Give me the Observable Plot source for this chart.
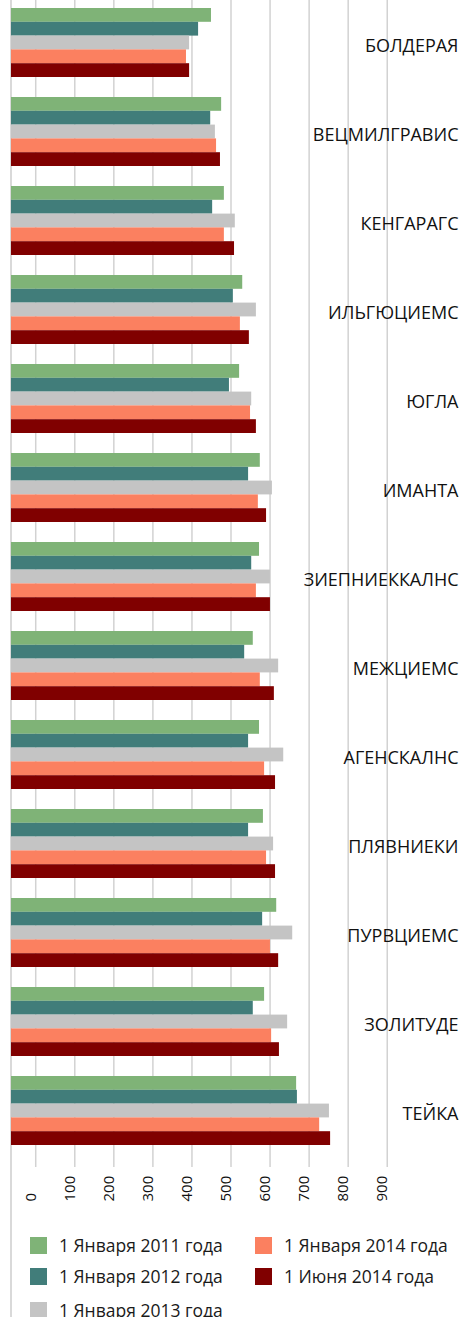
<!DOCTYPE html>
<html>
<head>
<meta charset="utf-8">
<script src="https://cdn.jsdelivr.net/npm/d3@7"></script>
<script src="https://cdn.jsdelivr.net/npm/@observablehq/plot@0.6"></script>
<style>
  body { margin: 0; background: #fff; font-family: "Open Sans", sans-serif; }
  #wrap { position: relative; width: 459px; height: 1317px; overflow: hidden; }
  #axisline { position: absolute; left: 10px; top: 0; width: 2px; height: 1317px; background: #d9d9d9; }
  #chart { position: absolute; left: 0; top: 0; }
  #legend { position: absolute; left: 30px; top: 1237px; display: grid;
            grid-template-columns: 225px 200px; grid-template-rows: 31px 34px 17px; grid-auto-flow: column; }
  .item { display: flex; align-items: center; height: 17px; font-size: 17.5px; line-height: 17px; color: #1a1a1a; white-space: nowrap; }
  .sw { width: 17px; height: 17px; margin-right: 12px; flex: none; }
</style>
</head>
<body>
<div id="wrap">
  <div id="axisline"></div>
  <div id="chart"></div>
  <div id="legend"></div>
</div>
<script>
const districts = ["БОЛДЕРАЯ", "ВЕЦМИЛГРАВИС", "КЕНГАРАГС", "ИЛЬГЮЦИЕМС", "ЮГЛА", "ИМАНТА",
  "ЗИЕПНИЕККАЛНС", "МЕЖЦИЕМС", "АГЕНСКАЛНС", "ПЛЯВНИЕКИ", "ПУРВЦИЕМС", "ЗОЛИТУДЕ", "ТЕЙКА"];
const series = ["1 Января 2011 года", "1 Января 2012 года", "1 Января 2013 года", "1 Января 2014 года", "1 Июня 2014 года"];
const colors = ["#7fb377", "#417d7a", "#c4c4c4", "#fb8060", "#800000"];

const jan2011 = [450, 476, 483, 530, 522, 575, 573, 557, 573, 583, 617, 586, 668];
const jan2012 = [417, 448, 453, 506, 496, 545, 553, 535, 545, 545, 581, 557, 670];
const jan2013 = [394, 460, 511, 565, 553, 606, 601, 622, 635, 609, 658, 645, 752];
const jan2014 = [386, 463, 483, 524, 550, 570, 565, 575, 586, 591, 601, 604, 727];
const jun2014 = [394, 473, 509, 547, 565, 591, 601, 611, 614, 614, 622, 624, 755];

const xTicks = [0, 100, 200, 300, 400, 500, 600, 700, 800, 900];

const seriesValues = [jan2011, jan2012, jan2013, jan2014, jun2014];
const data = districts.flatMap((d, i) =>
  series.map((s, j) => ({district: d, series: s, value: seriesValues[j][i]})));

const X_MIN = -62, X_MAX = 1085;
const BAR = 13.8;
const H = 1215;

const marks = [
  Plot.ruleX(xTicks, {stroke: "#d2d2d2", strokeWidth: 1.5}),
  ...series.map((s, j) => Plot.barX(data.filter(d => d.series === s), {
    x1: () => X_MIN, x2: "value", y: "district",
    fill: colors[j], insetTop: j * BAR, insetBottom: (4 - j) * BAR
  })),
  Plot.text(districts, {y: d => d, text: d => d, frameAnchor: "right", textAnchor: "end",
    dx: -1, dy: 3.5, fontSize: 18, fill: "#111"}),
  Plot.text(xTicks, {x: d => d, text: d => String(d), frameAnchor: "bottom", rotate: -90,
    textAnchor: "start", dy: 34, fontSize: 15, fill: "#111"})
];

const chart = Plot.plot({
  width: 459, height: H,
  marginLeft: 11, marginRight: 0, marginTop: 0, marginBottom: H - 1167,
  x: {domain: [X_MIN, X_MAX], axis: null},
  y: {domain: districts, range: [6, 1147], paddingInner: 0.2276, paddingOuter: 0, axis: null},
  style: {fontFamily: "Open Sans", background: "none", overflow: "visible"},
  marks
});
document.getElementById("chart").appendChild(chart);

const legend = document.getElementById("legend");
series.forEach((s, j) => {
  const item = document.createElement("div");
  item.className = "item";
  const sw = document.createElement("span");
  sw.className = "sw";
  sw.style.background = colors[j];
  item.appendChild(sw);
  item.appendChild(document.createTextNode(s));
  legend.appendChild(item);
});
</script>
</body>
</html>
